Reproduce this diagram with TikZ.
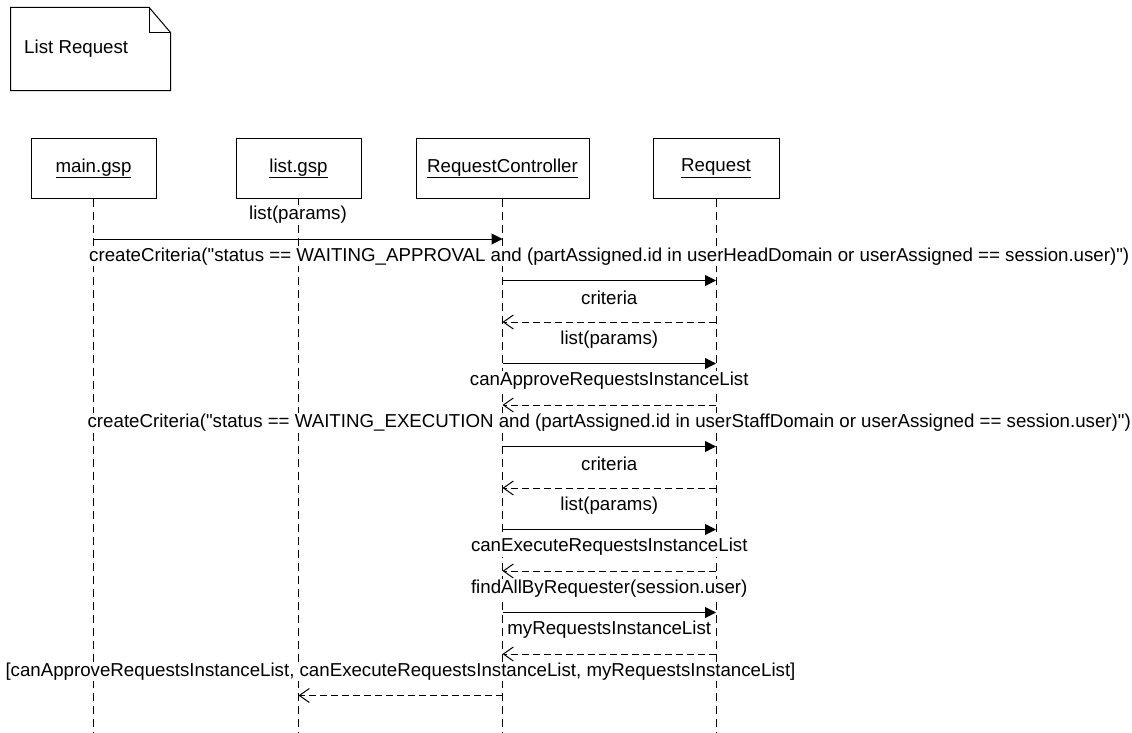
\documentclass[tikz,border=0pt]{standalone}
\usepackage{fontspec}
\setmainfont{Liberation Sans}[Ligatures=TeXOff]
\usetikzlibrary{arrows.meta}
\begin{document}
\begin{tikzpicture}[x=1pt,y=-1pt,
  every node/.style={font=\fontsize{18.7}{22}\selectfont},
  objbox/.style={draw, line width=1pt, minimum width=#1, minimum height=59pt, inner sep=0pt},
  lifeline/.style={line width=1pt, dash pattern=on 8pt off 5pt},
  call/.style={line width=1pt, -{Triangle[length=11pt,width=11pt]}},
  reply/.style={line width=1pt, dash pattern=on 7pt off 4pt, -{Straight Barb[length=10pt,width=14pt]}},
  lbl/.style={fill=white, inner sep=1pt, yshift=24pt},
  notebox/.style={line width=1pt}]
\useasboundingbox (0,0) rectangle (1132,733);

% comment note in the corner
\draw[notebox, fill=white] (10.7,7.3) -- (149,7.3) -- (170.7,32.7) -- (170.7,90.7) -- (10.7,90.7) -- cycle;
\draw[notebox] (149,7.3) -- (149,32.7) -- (170.7,32.7);
\node[anchor=west] (title) at (20.7,49) {List Request};

% participants
\node[objbox=125pt] (main) at (93.5,168.5) {\underline{main.gsp}};
\node[objbox=125pt] (list) at (298.5,168.5) {\underline{list.gsp}};
\node[objbox=173pt] (ctl)  at (502.5,168.5) {\underline{RequestController}};
\node[objbox=126pt] (req)  at (716,168.5) {\underline{Request}};

% lifelines and message anchor points
\foreach \p in {main,list,ctl,req}{
  \coordinate (\p-end) at (\p.south |- 0,733);
  \draw[lifeline] (\p.south) -- (\p-end);
  \foreach \r/\y in {1/239,2/280.5,3/322,4/363.5,5/405,6/446.5,7/488,8/529.5,9/571,10/612.5,11/654,12/695.5}
    \coordinate (\p\r) at (\p.south |- 0,\y);
}

% messages
\draw[call]  (main1) -- node[lbl] {list(params)} (ctl1);
\draw[call]  (ctl2) -- node[lbl] {createCriteria("status == WAITING\_APPROVAL and (partAssigned.id in userHeadDomain or userAssigned == session.user)")} (req2);
\draw[reply] (req3) -- node[lbl] {criteria} (ctl3);
\draw[call]  (ctl4) -- node[lbl] {list(params)} (req4);
\draw[reply] (req5) -- node[lbl] {canApproveRequestsInstanceList} (ctl5);
\draw[call]  (ctl6) -- node[lbl] {createCriteria("status == WAITING\_EXECUTION and (partAssigned.id in userStaffDomain or userAssigned == session.user)")} (req6);
\draw[reply] (req7) -- node[lbl] {criteria} (ctl7);
\draw[call]  (ctl8) -- node[lbl] {list(params)} (req8);
\draw[reply] (req9) -- node[lbl] {canExecuteRequestsInstanceList} (ctl9);
\draw[call]  (ctl10) -- node[lbl] {findAllByRequester(session.user)} (req10);
\draw[reply] (req11) -- node[lbl] {myRequestsInstanceList} (ctl11);
\draw[reply] (ctl12) -- node[lbl] {[canApproveRequestsInstanceList, canExecuteRequestsInstanceList, myRequestsInstanceList]} (list12);
\end{tikzpicture}
\end{document}
